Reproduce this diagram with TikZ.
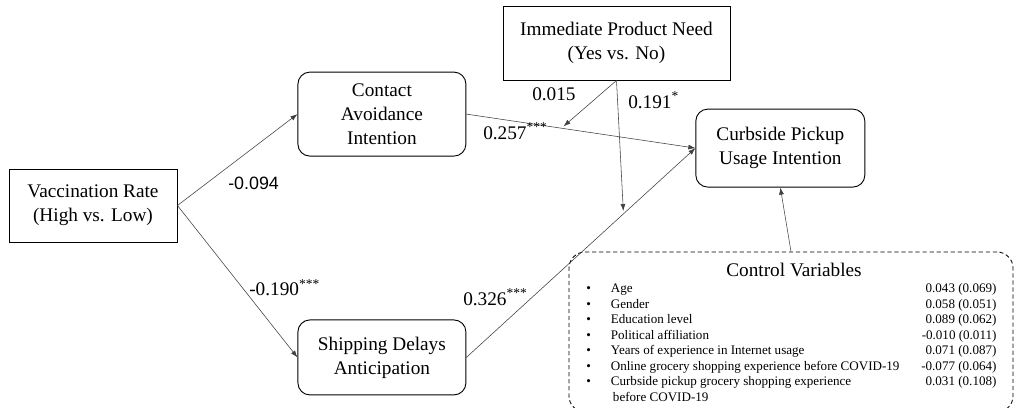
\documentclass[tikz,border=0pt]{standalone}
\usepackage{fontspec}
\setmainfont{Liberation Serif}
\newfontfamily\arialfont{Liberation Sans}
\usetikzlibrary{arrows.meta,positioning}

\begin{document}
\begin{tikzpicture}[
    node distance=1.5cm,
    var/.style={rectangle, draw, line width=0.65pt, align=center, inner sep=2pt, font=\fontsize{13.7}{17}\selectfont},
    med/.style={var, rounded corners=0.3cm},
    arrow/.style={-{Latex[length=5pt,width=3.5pt]}, line width=0.4pt, black!75},
    coef/.style={anchor=base west, inner sep=0pt, font=\fontsize{13.7}{17}\selectfont}
]
    \useasboundingbox (0,0) rectangle (25.375,-10.175);

    \node[var, minimum width=4.2cm, minimum height=1.825cm] (Vacc) at (2.325,-5.1375) {Vaccination Rate\\(High vs. Low)};
    \node[med, minimum width=4.2cm, minimum height=2.1cm, above right=0.3cm and 3cm of Vacc] (CAI) {Contact\\Avoidance\\Intention};
    \node[med, minimum width=4.2cm, minimum height=1.875cm, below right=1.925cm and 3cm of Vacc] (SDA) {Shipping Delays\\Anticipation};
    \node[med, minimum width=4.225cm, minimum height=1.95cm, right=5.725cm of CAI, yshift=-0.85cm] (CPU) {Curbside Pickup\\Usage Intention};
    \node[var, minimum width=5.675cm, minimum height=1.85cm] (IPN) at (15.4125,-1.075) {Immediate Product Need\\(Yes vs. No)};

    % control variables
    \node[draw, rounded corners=0.4cm, line width=0.6pt, dash pattern=on 3pt off 2pt, minimum width=11.1cm, minimum height=4cm] (Ctrl) at (19.775,-8.3) {};
    \node[below=0.27cm of Ctrl.north, xshift=0.075cm, inner sep=0pt, font=\fontsize{13.7}{17}\selectfont] (CtrlT) {Control Variables};
    \node[below right=0.745cm and 0.44cm of Ctrl.north west, inner sep=0pt, font=\fontsize{9.3}{11.05}\selectfont] (CtrlL) {%
      \begin{tabular*}{10.25cm}{@{}p{0.61cm}@{}l@{\extracolsep{\fill}}r@{}}
        \textbullet & Age & 0.043 (0.069)\\
        \textbullet & Gender & 0.058 (0.051)\\
        \textbullet & Education level & 0.089 (0.062)\\
        \textbullet & Political affiliation & -0.010 (0.011)\\
        \textbullet & Years of experience in Internet usage & 0.071 (0.087)\\
        \textbullet & Online grocery shopping experience before COVID-19 & -0.077 (0.064)\\
        \textbullet & Curbside pickup grocery shopping experience & 0.031 (0.108)\\
         & \hspace{1.5pt}before COVID-19 & \\
      \end{tabular*}};

    \draw[arrow] (Vacc.east) -- (CAI.west);
    \draw[arrow] (Vacc.east) -- (SDA.west);
    \draw[arrow] (CAI.east) -- coordinate[pos=0.415] (m1) (CPU.west);
    \draw[arrow] (SDA.east) -- coordinate[pos=0.686] (m2) (CPU.west);
    \draw[arrow, shorten >=2pt] (IPN.south) -- (m1);
    \draw[arrow, shorten >=2pt] (IPN.south) -- (m2);
    \draw[arrow] (Ctrl.north) -- (CPU.south);

    \node[coef, font=\arialfont\fontsize{12.7}{15}\selectfont] (b1) at (5.7,-4.725) {-0.094};
    \node[coef] (b2) at (6.225,-7.3925) {-0.190\textsuperscript{***}};
    \node[coef] (b3) at (12.075,-3.475) {0.257\textsuperscript{***}};
    \node[coef] (b4) at (11.575,-7.625) {0.326\textsuperscript{***}};
    \node[coef] (b5) at (13.3,-2.5) {0.015};
    \node[coef] (b6) at (15.7,-2.7) {0.191\textsuperscript{*}};
\end{tikzpicture}
\end{document}
